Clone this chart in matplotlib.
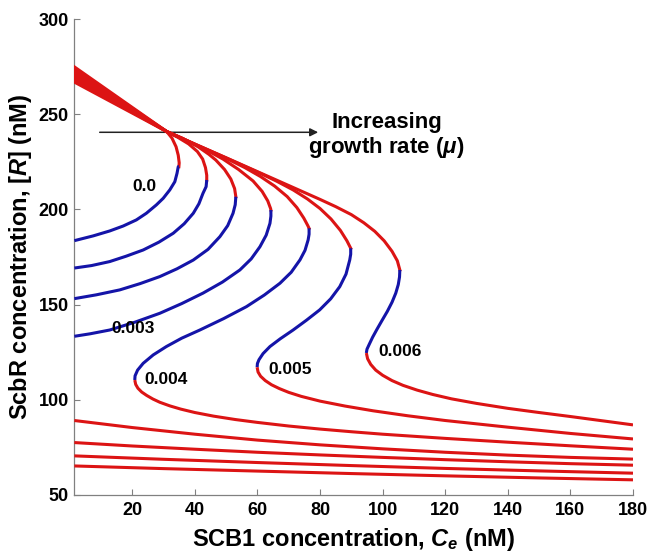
"""Steady-state ScbR level vs. SCB1 concentration for several growth rates."""

import matplotlib

matplotlib.use("Agg")
import matplotlib.pyplot as plt  # noqa: E402

plt.rcParams["font.family"] = ["Liberation Sans", "DejaVu Sans"]
plt.rcParams["font.weight"] = "bold"
plt.rcParams["mathtext.fontset"] = "custom"
plt.rcParams["mathtext.rm"] = "Liberation Sans:bold"
plt.rcParams["mathtext.it"] = "Liberation Sans:italic:bold"
plt.rcParams["mathtext.bf"] = "Liberation Sans:bold"

RED = "#dc1414"
BLUE = "#1414a8"

# growth rates, one curve each
mu = ["0.0", "0.001", "0.002", "0.003", "0.004", "0.005", "0.006"]

# upper stable branch (red), from the left edge down to the upper fold
upper_ce = [
    [1.5, 31, 32.7, 34.0, 34.7, 35.0, 34.9],
    [1.5, 31, 34.5, 38.0, 40.8, 42.5, 43.4, 43.8, 43.8],
    [1.5, 31, 36, 41, 44.5, 46.7, 49.5, 51.5, 52.7, 53.1],
    [1.5, 31, 38, 44, 49, 54, 58.6, 61.5, 63.3, 64.2, 64.3],
    [1.5, 31, 40, 50, 56, 61, 65.5, 69.5, 72.6, 74.8, 76.1, 76.5],
    [1.5, 31, 40, 50, 60, 66, 71.4, 76, 80, 83.5, 86.5, 88.6, 89.8],
    [1.5, 31, 40, 50, 60, 70, 80, 85, 90, 94, 97.5, 100.5, 103, 104.7, 105.5],
]
upper_r = [
    [275.0, 241, 237.5, 233, 228.5, 224.5, 222.5],
    [273.7, 241, 238, 234.5, 230.5, 226.5, 222, 218, 215.5],
    [272.3, 241, 237.5, 233, 229, 226, 221, 216, 211, 206.7],
    [271.0, 241, 235.8, 231, 226.5, 221, 215, 209.5, 204.5, 200.5, 199.7],
    [269.7, 241, 234.2, 226.9, 222, 217.3, 212.3, 206.8, 201, 195.5, 191.5, 190.1],
    [268.3, 241, 234.4, 227.1, 219.7, 215, 210.3, 205.5, 200.5, 195, 189, 183.5, 179.6],
    [267.0, 241, 234.4, 227.2, 219.9, 212.6, 205.3, 201.5, 197.3, 193, 188.5, 183.5, 178,
     173, 168.2],
]

# unstable branch (blue), from the upper fold to the lower fold / left edge
unstable_ce = [
    [34.9, 34.7, 34.3, 33.6, 32.0, 29.9, 27.7, 24.5, 21.3, 17.1, 12.8, 7.5, 1.5],
    [43.8, 43.6, 42.6, 41.3, 39.5, 36.6, 33.1, 28.5, 23.5, 18.0, 12.8, 7.0, 1.5],
    [53.1, 52.9, 52.2, 50.5, 48.0, 44.2, 39.5, 34.3, 28.8, 22.5, 16.0, 8.5, 1.5],
    [64.3, 64.3, 64.0, 62.8, 60.8, 58.0, 54.4, 48.8, 42.6, 35.8, 28.8, 21.0, 12.8, 6.5, 1.5],
    [76.5, 76.5, 76.2, 75.2, 73.6, 70.8, 67.2, 62.2, 56.5, 49.2, 41.6, 35.8, 30.9, 26.7,
     23.5, 21.7, 20.9, 20.8],
    [89.8, 89.8, 89.5, 88.3, 86.3, 83.4, 79.9, 75.7, 71.4, 67.3, 64.0, 61.8, 60.5, 60.0, 59.9],
    [105.5, 105.4, 105.0, 104.2, 103.0, 101.5, 99.8, 98.2, 96.8, 95.7, 95.0, 94.8],
]
unstable_r = [
    [222.5, 222.5, 219.0, 214.6, 210.3, 205.9, 202.4, 198.0, 194.5, 191.3, 188.7, 186.1, 183.6],
    [215.5, 212.0, 208.5, 203.0, 198.0, 192.5, 187.5, 182.8, 178.7, 175.4, 172.6, 170.5, 169.2],
    [206.7, 202.5, 198.0, 191.5, 185.7, 179.0, 173.4, 168.8, 164.7, 161.0, 157.7, 155.1, 153.1],
    [199.7, 196.5, 192.7, 186.5, 180.4, 174.0, 168.2, 161.8, 156.0, 150.5, 145.4, 140.8, 136.6,
     134.6, 133.3],
    [190.1, 187.0, 184.0, 178.5, 173.5, 167.0, 161.2, 155.0, 148.9, 142.6, 136.6, 132.3, 127.9,
     123.5, 119.1, 115.5, 112.5, 110.3],
    [179.6, 176.5, 173.5, 166.0, 159.4, 153.0, 147.2, 141.8, 136.6, 132.0, 127.9, 124.2, 121.0,
     119.0, 117.0],
    [168.2, 164.5, 160.5, 156.0, 151.2, 146.4, 141.6, 137.0, 132.8, 129.0, 126.5, 124.5],
]

# lower stable branch (red)
lower_ce = [
    [1.5, 30, 60, 90, 120, 150, 180],
    [1.5, 30, 60, 90, 120, 150, 180],
    [1.5, 20, 40, 60, 80, 100, 120, 140, 160, 180],
    [1.5, 20, 40, 60, 80, 100, 120, 140, 160, 180],
    [20.8, 21.1, 21.8, 23.0, 24.6, 26.6, 28.8, 32, 35.5, 40, 46, 53, 60, 70, 80, 90, 100,
     120, 140, 160, 180],
    [59.9, 60.2, 61.0, 62.5, 64.5, 67, 70, 74, 80, 88, 97, 108, 120, 140, 160, 180],
    [94.8, 95.2, 96.2, 97.8, 100, 103, 106.5, 111, 116, 122, 130, 140, 150, 160, 170, 180],
]
lower_r = [
    [65.1, 63.7, 62.4, 61.1, 59.9, 58.8, 57.8],
    [70.4, 68.6, 66.9, 65.3, 63.8, 62.5, 61.3],
    [77.4, 75.6, 73.9, 72.3, 70.9, 69.6, 68.4, 67.3, 66.3, 65.5],
    [89.0, 85.3, 81.8, 78.7, 76.2, 74.1, 72.3, 70.8, 69.6, 68.7],
    [110.3, 108.0, 106.0, 104.0, 102.2, 100.3, 98.6, 96.7, 95.0, 93.2, 91.3, 89.5, 88.0,
     86.1, 84.5, 83.1, 81.8, 79.6, 77.6, 75.7, 73.9],
    [117.0, 114.5, 112.3, 110.0, 107.8, 105.8, 103.8, 101.7, 99.2, 96.6, 94.1, 91.5, 89.0,
     85.5, 82.2, 79.3],
    [124.5, 121.5, 118.5, 115.5, 112.8, 110.0, 107.5, 105.0, 102.7, 100.4, 98.0, 95.4, 93.2,
     91.1, 88.9, 86.7],
]

labelled = ["0.0", "0.003", "0.004", "0.005", "0.006"]
x_ticks = [20, 40, 60, 80, 100, 120, 140, 160, 180]
y_ticks = [50, 100, 150, 200, 250, 300]

fig = plt.figure(figsize=(6.58, 5.53), dpi=100)
ax = fig.add_axes([0.113, 0.1055, 0.849, 0.8595])

lw = 2.2
for i in range(len(mu)):
    ax.plot(upper_ce[i], upper_r[i], color=RED, lw=lw, solid_joinstyle="round", zorder=3)
    ax.plot(unstable_ce[i], unstable_r[i], color=BLUE, lw=lw, solid_joinstyle="round",
            solid_capstyle="butt", zorder=3)
    ax.plot(lower_ce[i], lower_r[i], color=RED, lw=lw, solid_joinstyle="round",
            solid_capstyle="butt", zorder=3)

# curve labels
label_pos = {"0.0": (24, 212), "0.003": (20.3, 137.5), "0.004": (30.9, 110.4),
             "0.005": (70.4, 115.6), "0.006": (105.5, 125.2)}
for name in labelled:
    x, y = label_pos[name]
    ax.text(x, y, name, fontsize=12.5, fontweight="bold", ha="center", va="center")

ax.annotate("", xy=(79.4, 240.6), xytext=(9.6, 240.6),
            arrowprops=dict(arrowstyle="-|>", color="#222222", lw=1.1, mutation_scale=12,
                            shrinkA=0, shrinkB=0), zorder=2)
ax.text(101.3, 238.7, "Increasing\ngrowth rate ($\\mu$)", fontsize=16, fontweight="bold",
        ha="center", va="center", linespacing=1.15)

ax.set_xlim(1.5, 180)
ax.set_ylim(50, 300)
ax.set_xticks(x_ticks)
ax.set_yticks(y_ticks)
ax.tick_params(direction="in", length=4, width=0.8, color="#808080", labelsize=13)
ax.tick_params(axis="x", pad=5)
ax.tick_params(axis="y", pad=4)
for lab in ax.get_xticklabels() + ax.get_yticklabels():
    lab.set_fontweight("bold")
for side in ("top", "right"):
    ax.spines[side].set_visible(False)
for side in ("left", "bottom"):
    ax.spines[side].set_color("#808080")
    ax.spines[side].set_linewidth(0.9)

ax.set_xlabel("SCB1 concentration, $C_e$ (nM)", fontsize=17, fontweight="bold", labelpad=5)
ax.set_ylabel("ScbR concentration, [$R$] (nM)", fontsize=17, fontweight="bold", labelpad=3)

fig.savefig("out.png", dpi=100)
